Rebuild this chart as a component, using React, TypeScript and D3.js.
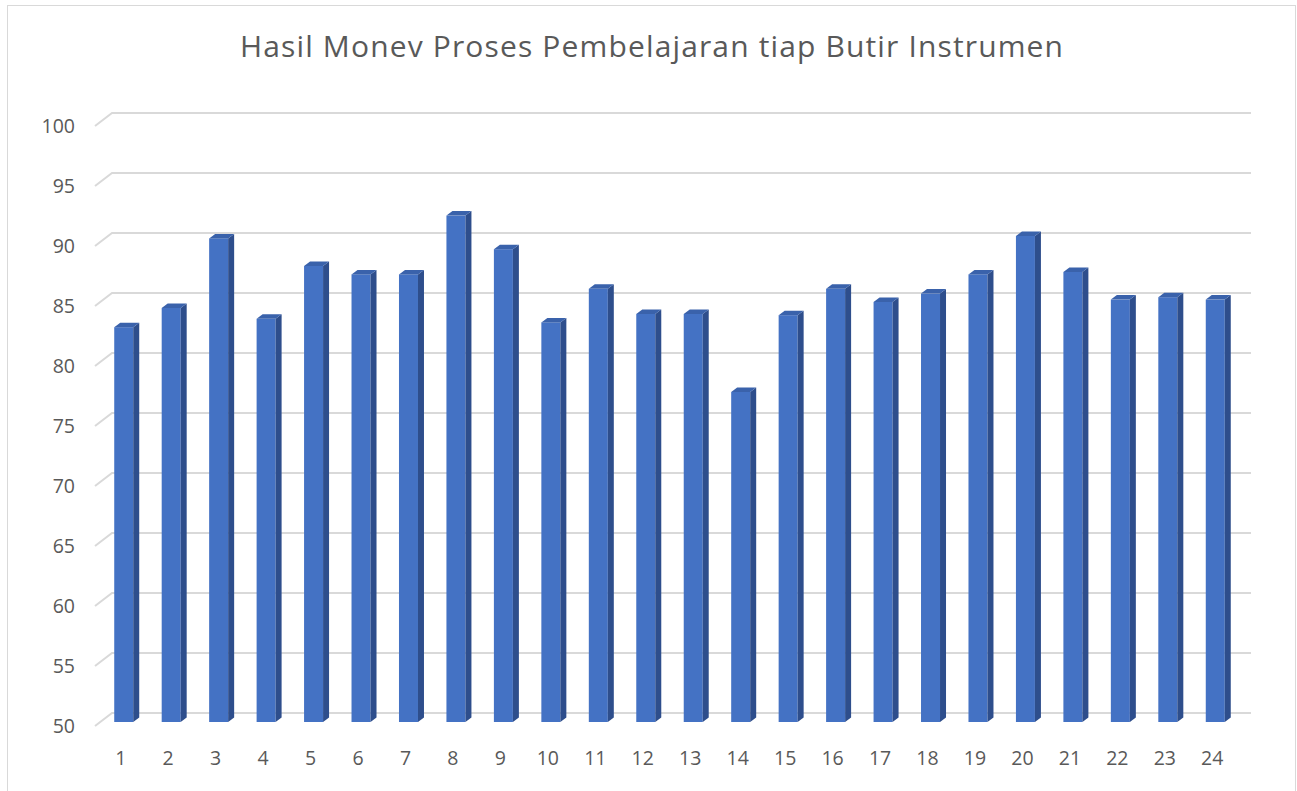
import { useRef, useEffect } from "react";
import * as d3 from "d3";

const title = "Hasil Monev Proses Pembelajaran tiap Butir Instrumen";
const items = Array.from({ length: 24 }, (_, i) => String(i + 1));
const scores = [
  82.9, 84.5, 90.3, 83.6, 88.0, 87.3, 87.3, 92.2, 89.4, 83.3, 86.1, 84.0,
  84.0, 77.5, 83.9, 86.1, 85.0, 85.7, 87.3, 90.5, 87.5, 85.2, 85.4, 85.2,
];
const yTicks = [50, 55, 60, 65, 70, 75, 80, 85, 90, 95, 100];

export default function App() {
  const svgRef = useRef<SVGSVGElement>(null);

  useEffect(() => {
    const svg = d3.select(svgRef.current);
    svg.selectAll("*").remove();

    const width = 1297;
    const height = 791;
    const wall = { left: 112, right: 1251 };
    // 3d offsets: back wall -> front plane, back wall -> bar front face
    const depth = { dx: -17, dy: 13 };
    const barOff = { dx: -12, dy: 9 };
    const side = { dx: 6, dy: -4.5 };
    const barW = 19;

    const font = "'Open Sans', sans-serif";
    const grey = "#595959";

    svg.attr("width", width).attr("height", height).style("font-family", font);

    // chart border
    svg
      .append("rect")
      .attr("x", 7.5)
      .attr("y", 5.5)
      .attr("width", 1288)
      .attr("height", 800)
      .attr("fill", "#fff")
      .attr("stroke", "#d9d9d9")
      .attr("stroke-width", 1);

    const y = d3.scaleLinear().domain([50, 100]).range([713, 113]);
    const x = d3.scaleBand().domain(items).range([wall.left, wall.right]);
    const cx = (d: string) => (x(d) as number) + x.bandwidth() / 2;

    // gridlines on back wall + side diagonal
    const grid = svg.append("g").attr("stroke", "#d9d9d9").attr("stroke-width", 2).attr("fill", "none");
    yTicks.forEach((t) => {
      grid
        .append("path")
        .attr("d", `M${wall.left + depth.dx},${y(t) + depth.dy}L${wall.left},${y(t)}L${wall.right},${y(t)}`);
    });

    // y labels
    svg
      .append("g")
      .selectAll("text")
      .data(yTicks)
      .join("text")
      .attr("x", 75)
      .attr("y", (d) => y(d) + depth.dy)
      .attr("dy", "0.35em")
      .attr("text-anchor", "end")
      .attr("font-size", 19.5)
      .attr("fill", grey)
      .text((d) => d);

    // x labels
    svg
      .append("g")
      .selectAll("text")
      .data(items)
      .join("text")
      .attr("x", (d) => cx(d) + depth.dx + 2)
      .attr("y", 765)
      .attr("text-anchor", "middle")
      .attr("font-size", 19.5)
      .attr("fill", grey)
      .text((d) => d);

    // 3d bars
    const bars = svg
      .append("g")
      .selectAll("g")
      .data(items.map((k, i) => ({ k, v: scores[i] })))
      .join("g");

    const xl = (d) => cx(d.k) + barOff.dx - barW / 2;
    const xr = (d) => xl(d) + barW;
    const yt = (d) => y(d.v) + barOff.dy;
    const yb = y(50) + barOff.dy;

    bars
      .append("rect")
      .attr("x", xl)
      .attr("y", yt)
      .attr("width", barW)
      .attr("height", (d) => yb - yt(d))
      .attr("fill", "#4472c4");

    bars
      .append("path")
      .attr("fill", "#2e4e8c")
      .attr(
        "d",
        (d) =>
          `M${xr(d)},${yt(d)}L${xr(d) + side.dx},${yt(d) + side.dy}L${xr(d) + side.dx},${yb + side.dy}L${xr(d)},${yb}Z`
      );

    bars
      .append("path")
      .attr("fill", "#3a62ab")
      .attr(
        "d",
        (d) =>
          `M${xl(d)},${yt(d)}L${xl(d) + side.dx},${yt(d) + side.dy}L${xr(d) + side.dx},${yt(d) + side.dy}L${xr(d)},${yt(d)}Z`
      );

    // title
    svg
      .append("text")
      .attr("x", 240)
      .attr("y", 57)
      .attr("font-size", 30)
      .attr("textLength", 823)
      .attr("lengthAdjust", "spacing")
      .attr("fill", grey)
      .text(title);
  }, []);

  return <svg ref={svgRef} style={{ position: "absolute", left: 0, top: 0 }} />;
}
